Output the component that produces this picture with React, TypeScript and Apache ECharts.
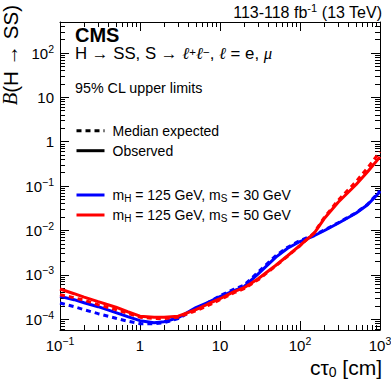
import React, { useEffect, useRef } from 'react';
import * as echarts from 'echarts';

const FONT = "'Liberation Sans', Arial, Helvetica, sans-serif";
const SERIF = "'Liberation Serif', 'DejaVu Serif', serif";

// c*tau0 sample points [cm]
const ctau = [0.1, 0.15, 0.2, 0.3, 0.5, 0.7, 1, 1.5, 2, 3, 5, 7, 10, 15, 20, 30, 50, 70, 100, 150, 200, 300, 500, 700, 1000];

// mS = 30 GeV
const obs30 = [3.26e-4, 2.75e-4, 2.35e-4, 1.91e-4, 1.4e-4, 1.14e-4, 9.25e-5, 8.34e-5, 8.77e-5, 1.08e-4, 1.82e-4, 2.35e-4, 3.21e-4, 4.38e-4, 5.39e-4, 1.05e-3, 2.5e-3, 3.97e-3, 5.62e-3, 7.59e-3, 9.84e-3, 1.45e-2, 2.44e-2, 3.79e-2, 7.43e-2];
const exp30 = [2.31e-4, 1.91e-4, 1.64e-4, 1.33e-4, 1.05e-4, 9.0e-5, 7.91e-5, 7.91e-5, 8.34e-5, 1.03e-4, 1.72e-4, 2.35e-4, 3.38e-4, 4.73e-4, 5.82e-4, 1.15e-3, 2.7e-3, 4.18e-3, 5.92e-3, 8.0e-3, 1.01e-2, 1.49e-2, 2.5e-2, 3.89e-2, 7.83e-2];
// mS = 50 GeV
const obs50 = [4.79e-4, 3.75e-4, 3.13e-4, 2.48e-4, 1.86e-4, 1.47e-4, 1.17e-4, 1.1e-4, 1.1e-4, 1.17e-4, 1.64e-4, 2.17e-4, 2.89e-4, 4.16e-4, 5.12e-4, 8.16e-4, 1.64e-3, 2.69e-3, 4.63e-3, 8.63e-3, 1.83e-2, 4.31e-2, 0.107, 0.21, 0.456];
const exp50 = [3.56e-4, 3.05e-4, 2.67e-4, 2.12e-4, 1.64e-4, 1.36e-4, 1.11e-4, 1.03e-4, 1.03e-4, 1.11e-4, 1.55e-4, 2.01e-4, 2.75e-4, 3.95e-4, 4.86e-4, 7.75e-4, 1.6e-3, 2.62e-3, 4.52e-3, 8.87e-3, 1.93e-2, 4.79e-2, 0.125, 0.258, 0.592];

// axes
const xMin = 0.1;
const xMax = 1000;
const yMin = 5.7e-5;
const yMax = 500;
const xMajor = [0.1, 1, 10, 100, 1000];
const yMajor = [1e-4, 1e-3, 1e-2, 1e-1, 1, 10, 100];
const minorMult = [2, 3, 4, 5, 6, 7, 8, 9];
const xMinor = [0.1, 1, 10, 100].flatMap((d) => minorMult.map((m) => +(d * m).toPrecision(3)));
const yMinor = [1e-5, 1e-4, 1e-3, 1e-2, 1e-1, 1, 10, 100]
  .flatMap((d) => minorMult.map((m) => +(d * m).toPrecision(3)))
  .filter((v) => v > yMin && v < yMax);

const N30 = 'm_H = 125 GeV, m_S = 30 GeV';
const N50 = 'm_H = 125 GeV, m_S = 50 GeV';
const NEXP = 'Median expected';
const NOBS = 'Observed';

const BLUE = '#0000ff';
const RED = '#ff0000';

function powLabel(v: number): string {
  const e = Math.round(Math.log10(v));
  if (e === 0) return '1';
  if (e === 1) return '10';
  return '{b|10}{s|' + (e < 0 ? '\u2212' + -e : String(e)) + '}';
}

const labelRich = {
  b: { fontSize: 15, lineHeight: 20, fontFamily: FONT, color: '#000', verticalAlign: 'middle' },
  s: { fontSize: 10.5, lineHeight: 10, fontFamily: FONT, color: '#000', verticalAlign: 'top' },
};

function axis(kind: 'x' | 'y', position: string, ticks: number[], len: number, labels: boolean, line: boolean) {
  const isX = kind === 'x';
  return {
    type: 'log',
    logBase: 10,
    min: isX ? xMin : yMin,
    max: isX ? xMax : yMax,
    position,
    gridIndex: 0,
    axisLine: { show: line, onZero: false, lineStyle: { color: '#000', width: 1 } },
    axisTick: { show: true, inside: true, length: len, customValues: ticks, lineStyle: { color: '#000', width: 1 } },
    axisLabel: labels
      ? {
          show: true,
          customValues: isX ? xMajor : yMajor,
          formatter: powLabel,
          fontSize: 15,
          lineHeight: 20,
          fontFamily: FONT,
          color: '#000',
          margin: isX ? 5 : 6,
          rich: labelRich,
        }
      : { show: false },
    splitLine: { show: false },
    minorTick: { show: false },
    minorSplitLine: { show: false },
  };
}

function pairs(ys: number[]) {
  return ctau.map((x, i) => [x, ys[i]]);
}

const DASH = [5, 4];

const option: any = {
  animation: false,
  backgroundColor: '#fff',
  textStyle: { fontFamily: FONT },
  grid: { left: 60, right: 11, top: 22, bottom: 50, containLabel: false, outerBoundsMode: 'none' },
  xAxis: [
    axis('x', 'bottom', xMajor, 9, true, true),
    axis('x', 'bottom', xMinor, 5, false, false),
    axis('x', 'top', xMajor, 9, false, true),
    axis('x', 'top', xMinor, 5, false, false),
  ],
  yAxis: [
    axis('y', 'left', yMajor, 9, true, true),
    axis('y', 'left', yMinor, 5, false, false),
    axis('y', 'right', yMajor, 9, false, true),
    axis('y', 'right', yMinor, 5, false, false),
  ],
  legend: [
    {
      data: [NEXP, NOBS],
      orient: 'vertical',
      left: 75,
      top: 122.7,
      padding: 0,
      itemWidth: 28,
      itemHeight: 16,
      itemGap: 4,
      selectedMode: false,
      itemStyle: { opacity: 0 },
      lineStyle: { width: 3 },
      textStyle: { fontSize: 14, lineHeight: 16, fontFamily: FONT, color: '#000', padding: [0, 0, 0, 3] },
    },
    {
      data: [N30, N50],
      orient: 'vertical',
      left: 75,
      top: 187,
      padding: 0,
      itemWidth: 28,
      itemHeight: 16,
      itemGap: 4,
      selectedMode: false,
      itemStyle: { opacity: 0 },
      lineStyle: { width: 3, type: 'solid' },
      formatter: (name: string) => {
        const ms = name === N30 ? '30' : '50';
        return '{n|m}{u|H}{n| = 125 GeV, m}{u|S}{n| = ' + ms + ' GeV}';
      },
      textStyle: {
        fontSize: 14,
        lineHeight: 16,
        fontFamily: FONT,
        color: '#000',
        padding: [0, 0, 0, 3],
        rich: {
          n: { fontSize: 14, lineHeight: 16, fontFamily: FONT, color: '#000', verticalAlign: 'middle' },
          u: { fontSize: 10, lineHeight: 8, fontFamily: FONT, color: '#000', verticalAlign: 'bottom' },
        },
      },
    },
  ],
  series: [
    { type: 'line', name: NEXP, data: [], symbol: 'none', color: '#000', lineStyle: { color: '#000', width: 3, type: DASH } },
    { type: 'line', name: NOBS, data: [], symbol: 'none', color: '#000', lineStyle: { color: '#000', width: 3 } },
    { type: 'line', name: N30, data: pairs(obs30), symbol: 'none', color: BLUE, lineStyle: { color: BLUE, width: 3 } },
    { type: 'line', name: N30, data: pairs(exp30), symbol: 'none', color: BLUE, lineStyle: { color: BLUE, width: 3, type: DASH } },
    { type: 'line', name: N50, data: pairs(exp50), symbol: 'none', color: RED, lineStyle: { color: RED, width: 3, type: DASH } },
    { type: 'line', name: N50, data: pairs(obs50), symbol: 'none', color: RED, lineStyle: { color: RED, width: 3 } },
  ],
  graphic: [
    {
      type: 'text',
      x: 382,
      y: 12,
      style: {
        text: '{a|113-118 fb}{s|-1}{a| (13 TeV)}',
        align: 'right',
        verticalAlign: 'middle',
        rich: {
          a: { fontSize: 16, lineHeight: 20, fontFamily: FONT, fill: '#000', verticalAlign: 'middle' },
          s: { fontSize: 11, lineHeight: 10, fontFamily: FONT, fill: '#000', verticalAlign: 'top' },
        },
      },
    },
    {
      type: 'text',
      x: 75,
      y: 34.5,
      style: { text: 'CMS', fontSize: 20, lineHeight: 18, fontWeight: 'bold', fontFamily: FONT, fill: '#000', align: 'left', verticalAlign: 'middle' },
    },
    {
      type: 'text',
      x: 75,
      y: 53.5,
      style: {
        text: '{n|H \u2192 SS, S \u2192 }{l|\u2113}{s|+}{l|\u2113}{s|\u2212}{n|, }{l|\u2113}{n| = e, }{m|\u03bc}',
        align: 'left',
        verticalAlign: 'middle',
        rich: {
          n: { fontSize: 16.8, lineHeight: 16, fontFamily: FONT, fill: '#000', verticalAlign: 'middle' },
          l: { fontSize: 16.8, lineHeight: 16, fontFamily: SERIF, fontStyle: 'italic', fill: '#000', verticalAlign: 'middle' },
          m: { fontSize: 16.8, lineHeight: 16, fontFamily: SERIF, fontStyle: 'italic', fill: '#000', verticalAlign: 'middle' },
          s: { fontSize: 11.5, lineHeight: 7, fontFamily: FONT, fill: '#000', verticalAlign: 'top' },
        },
      },
    },
    {
      type: 'text',
      x: 75,
      y: 88.3,
      style: { text: '95% CL upper limits', fontSize: 14.3, fontFamily: FONT, fill: '#000', align: 'left', verticalAlign: 'middle' },
    },
    {
      type: 'text',
      x: 382,
      y: 367,
      style: {
        text: '{n|c\u03c4}{u|0}{n| [cm]}',
        align: 'right',
        verticalAlign: 'middle',
        rich: {
          n: { fontSize: 21, lineHeight: 24, fontFamily: FONT, fill: '#000', verticalAlign: 'middle' },
          u: { fontSize: 14, lineHeight: 11, fontFamily: FONT, fill: '#000', verticalAlign: 'bottom' },
        },
      },
    },
    {
      type: 'text',
      x: 10,
      y: 5,
      rotation: Math.PI / 2,
      style: {
        text: '{c|B}{n|(H \u2192 SS)}',
        align: 'right',
        verticalAlign: 'middle',
        rich: {
          c: { fontSize: 20.5, lineHeight: 22, fontFamily: SERIF, fontStyle: 'italic', fill: '#000', verticalAlign: 'middle' },
          n: { fontSize: 20.5, lineHeight: 22, fontFamily: FONT, fill: '#000', verticalAlign: 'middle' },
        },
      },
    },
  ],
};

export default function App() {
  const ref = useRef<HTMLDivElement>(null);
  useEffect(() => {
    if (!ref.current) return;
    const chart = echarts.init(ref.current, null, { renderer: 'svg' });
    chart.setOption(option);
    return () => chart.dispose();
  }, []);
  return (
    <div
      ref={ref}
      style={{ position: 'absolute', left: 0, top: 0, width: 391, height: 380, background: '#fff' }}
    />
  );
}
